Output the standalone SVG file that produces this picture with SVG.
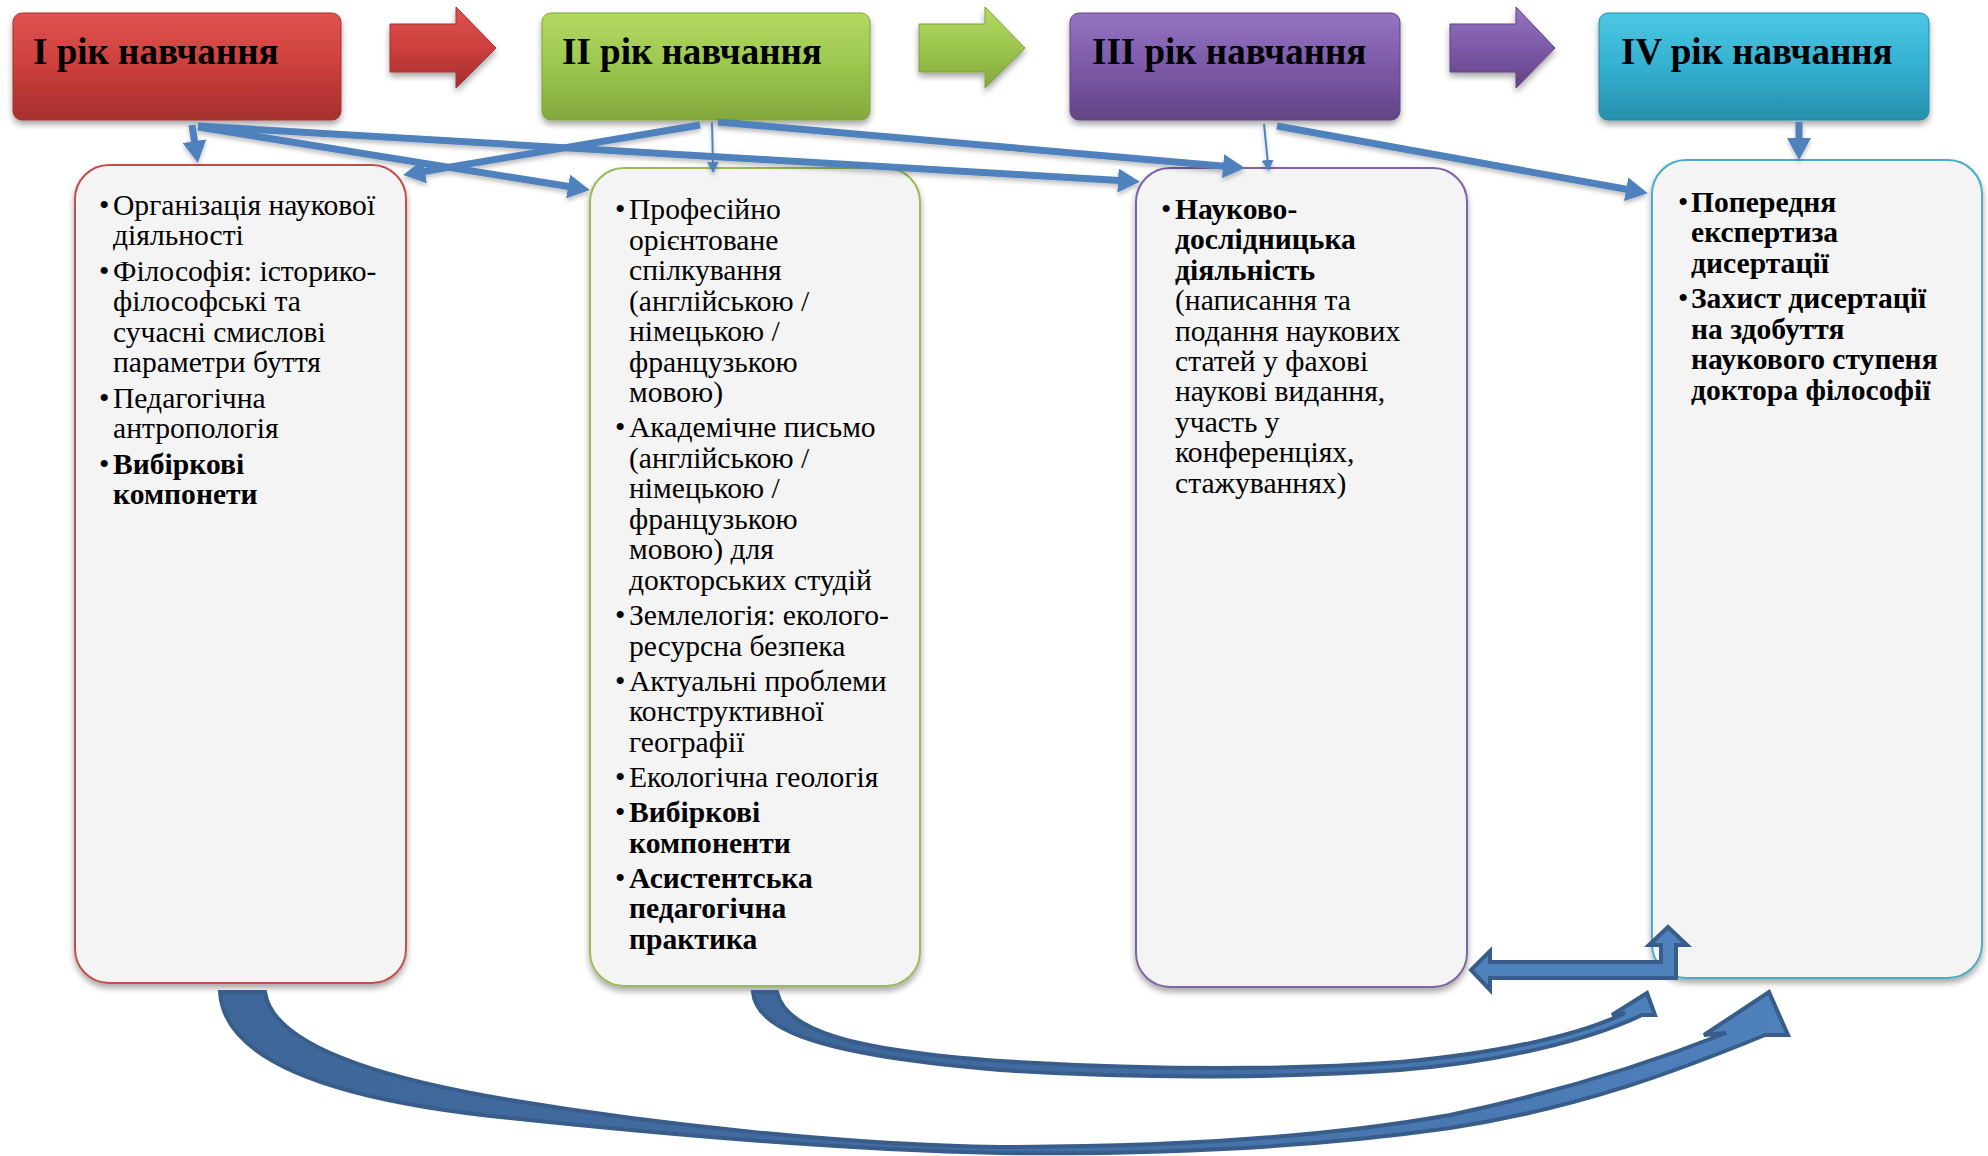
<svg xmlns="http://www.w3.org/2000/svg" width="1988" height="1156" viewBox="0 0 1988 1156">
<style>
.hdr{font-family:"Liberation Serif","Times New Roman",serif;font-weight:bold;font-size:37px;fill:#000}
.t{font-family:"Liberation Serif","Times New Roman",serif;font-size:29.6px;fill:#000}
.b{font-weight:bold}
.box{fill:#f4f4f4;stroke-width:2}
.conn{stroke:#4f81bd;stroke-width:7;fill:none}
.thin{stroke:#4f81bd;stroke-width:2;fill:none}
.big{stroke:#385d8a;stroke-width:4;stroke-linejoin:miter}
</style>
<defs>
<filter id="sh" x="-10%" y="-10%" width="120%" height="130%">
<feDropShadow dx="0" dy="4" stdDeviation="3" flood-color="#000" flood-opacity="0.35"/>
</filter>
<filter id="lsh" x="-5%" y="-50%" width="110%" height="200%">
<feDropShadow dx="0" dy="3" stdDeviation="2" flood-color="#000" flood-opacity="0.25"/>
</filter>
<linearGradient id="gR" x1="0" y1="0" x2="0" y2="1"><stop offset="0" stop-color="#e05350"/><stop offset="0.5" stop-color="#cc3f3c"/><stop offset="1" stop-color="#a42f2d"/></linearGradient>
<linearGradient id="gG" x1="0" y1="0" x2="0" y2="1"><stop offset="0" stop-color="#b2da63"/><stop offset="0.5" stop-color="#9cc64e"/><stop offset="1" stop-color="#82a83c"/></linearGradient>
<linearGradient id="gP" x1="0" y1="0" x2="0" y2="1"><stop offset="0" stop-color="#9474c2"/><stop offset="0.5" stop-color="#7b5aa8"/><stop offset="1" stop-color="#624585"/></linearGradient>
<linearGradient id="gC" x1="0" y1="0" x2="0" y2="1"><stop offset="0" stop-color="#4cc8e4"/><stop offset="0.5" stop-color="#35b0d0"/><stop offset="1" stop-color="#268fab"/></linearGradient>
<linearGradient id="gBlue" x1="0" y1="0" x2="1" y2="0"><stop offset="0" stop-color="#3e6699"/><stop offset="0.55" stop-color="#446fa5"/><stop offset="1" stop-color="#4f81bd"/></linearGradient>
<marker id="ah" markerUnits="userSpaceOnUse" markerWidth="24" markerHeight="24" refX="10" refY="12" orient="auto">
<path d="M0,0 L22,12 L0,24 Z" fill="#4f81bd"/>
</marker>
<marker id="ahs" markerUnits="userSpaceOnUse" markerWidth="12" markerHeight="12" refX="4" refY="6" orient="auto">
<path d="M0,0 L11,6 L0,12 Z" fill="#4f81bd"/>
</marker>
</defs>
<rect width="1988" height="1156" fill="#fff"/>

<g id="arrow-red" filter="url(#sh)"><path d="M390,24 L456,24 L456,7 L496,48 L456,88 L456,72 L390,72 Z" fill="url(#gR)" stroke="#a33230" stroke-width="1"/></g>
<g id="arrow-green" filter="url(#sh)"><path d="M919,24 L985,24 L985,7 L1025,48 L985,88 L985,72 L919,72 Z" fill="url(#gG)" stroke="#7fa33b" stroke-width="1"/></g>
<g id="arrow-purple" filter="url(#sh)"><path d="M1450,24 L1516,24 L1516,7 L1555,48 L1516,88 L1516,72 L1450,72 Z" fill="url(#gP)" stroke="#5f4582" stroke-width="1"/></g>

<g id="year1">
<rect x="13" y="13" width="328" height="107" rx="9" fill="url(#gR)" stroke="#a33230" stroke-width="1" filter="url(#sh)"/>
<text class="hdr" x="33" y="64">I рік навчання</text>
</g>
<g id="year2">
<rect x="542" y="13" width="328" height="107" rx="9" fill="url(#gG)" stroke="#7fa33b" stroke-width="1" filter="url(#sh)"/>
<text class="hdr" x="562" y="64">II рік навчання</text>
</g>
<g id="year3">
<rect x="1070" y="13" width="330" height="107" rx="9" fill="url(#gP)" stroke="#5f4582" stroke-width="1" filter="url(#sh)"/>
<text class="hdr" x="1092" y="64">III рік навчання</text>
</g>
<g id="year4">
<rect x="1599" y="13" width="330" height="107" rx="9" fill="url(#gC)" stroke="#238aa5" stroke-width="1" filter="url(#sh)"/>
<text class="hdr" x="1621" y="64">IV рік навчання</text>
</g>

<g id="box1">
<rect class="box" x="75" y="165" width="331" height="818" rx="34" stroke="#c0504d" filter="url(#sh)"/>
<text class="t" x="99" y="215">•</text><text class="t" x="113" y="215">Організація наукової</text>
<text class="t" x="113" y="245.4">діяльності</text>
<text class="t" x="99" y="280.9">•</text><text class="t" x="113" y="280.9">Філософія: історико-</text>
<text class="t" x="113" y="311.3">філософські та</text>
<text class="t" x="113" y="341.7">сучасні смислові</text>
<text class="t" x="113" y="372.1">параметри буття</text>
<text class="t" x="99" y="407.6">•</text><text class="t" x="113" y="407.6">Педагогічна</text>
<text class="t" x="113" y="438">антропологія</text>
<text class="t" x="99" y="473.5">•</text><text class="t b" x="113" y="473.5">Вибіркові</text>
<text class="t b" x="113" y="503.9">компонети</text>
</g>

<g id="box2">
<rect class="box" x="590" y="168" width="330" height="818" rx="34" stroke="#9bbb59" filter="url(#sh)"/>
<text class="t" x="615" y="219">•</text><text class="t" x="629" y="219">Професійно</text>
<text class="t" x="629" y="249.5">орієнтоване</text>
<text class="t" x="629" y="280">спілкування</text>
<text class="t" x="629" y="310.5">(англійською /</text>
<text class="t" x="629" y="341">німецькою /</text>
<text class="t" x="629" y="371.5">французькою</text>
<text class="t" x="629" y="402">мовою)</text>
<text class="t" x="615" y="437">•</text><text class="t" x="629" y="437">Академічне письмо</text>
<text class="t" x="629" y="467.5">(англійською /</text>
<text class="t" x="629" y="498">німецькою /</text>
<text class="t" x="629" y="528.5">французькою</text>
<text class="t" x="629" y="559">мовою) для</text>
<text class="t" x="629" y="589.5">докторських студій</text>
<text class="t" x="615" y="625">•</text><text class="t" x="629" y="625">Землелогія: еколого-</text>
<text class="t" x="629" y="655.5">ресурсна безпека</text>
<text class="t" x="615" y="690.5">•</text><text class="t" x="629" y="690.5">Актуальні проблеми</text>
<text class="t" x="629" y="721">конструктивної</text>
<text class="t" x="629" y="751.5">географії</text>
<text class="t" x="615" y="786.5">•</text><text class="t" x="629" y="786.5">Екологічна геологія</text>
<text class="t" x="615" y="822">•</text><text class="t b" x="629" y="822">Вибіркові</text>
<text class="t b" x="629" y="852.5">компоненти</text>
<text class="t" x="615" y="887.5">•</text><text class="t b" x="629" y="887.5">Асистентська</text>
<text class="t b" x="629" y="918">педагогічна</text>
<text class="t b" x="629" y="948.5">практика</text>
</g>

<g id="box3">
<rect class="box" x="1136" y="168" width="331" height="819" rx="34" stroke="#8064a2" filter="url(#sh)"/>
<text class="t" x="1161" y="219">•</text><text class="t b" x="1175" y="219">Науково-</text>
<text class="t b" x="1175" y="249.4">дослідницька</text>
<text class="t b" x="1175" y="279.8">діяльність</text>
<text class="t" x="1175" y="310.2">(написання та</text>
<text class="t" x="1175" y="340.6">подання наукових</text>
<text class="t" x="1175" y="371">статей у фахові</text>
<text class="t" x="1175" y="401.4">наукові видання,</text>
<text class="t" x="1175" y="431.8">участь у</text>
<text class="t" x="1175" y="462.2">конференціях,</text>
<text class="t" x="1175" y="492.6">стажуваннях)</text>
</g>

<g id="box4">
<rect class="box" x="1652" y="160" width="330" height="818" rx="34" stroke="#4bacc6" filter="url(#sh)"/>
<text class="t" x="1678" y="212">•</text><text class="t b" x="1691" y="212">Попередня</text>
<text class="t b" x="1691" y="242.4">експертиза</text>
<text class="t b" x="1691" y="272.8">дисертації</text>
<text class="t" x="1678" y="308.3">•</text><text class="t b" x="1691" y="308.3">Захист дисертації</text>
<text class="t b" x="1691" y="338.7">на здобуття</text>
<text class="t b" x="1691" y="369.1">наукового ступеня</text>
<text class="t b" x="1691" y="399.5">доктора філософії</text>
</g>

<g id="connectors">
<g filter="url(#lsh)">
<line class="conn" x1="192" y1="125" x2="196" y2="151" marker-end="url(#ah)"/>
<line class="conn" x1="198" y1="127" x2="578" y2="188" marker-end="url(#ah)"/>
<line class="conn" x1="198" y1="126" x2="1128" y2="181" marker-end="url(#ah)"/>
<line class="conn" x1="700" y1="125" x2="415" y2="173" marker-end="url(#ah)"/>
<line class="thin" x1="712" y1="122" x2="713" y2="166" marker-end="url(#ahs)"/>
<line class="conn" x1="718" y1="122" x2="1233" y2="167" marker-end="url(#ah)"/>
<line class="thin" x1="1264" y1="124" x2="1268" y2="164" marker-end="url(#ahs)"/>
<line class="conn" x1="1277" y1="126" x2="1636" y2="191" marker-end="url(#ah)"/>
<line class="conn" x1="1799" y1="122" x2="1799" y2="148" marker-end="url(#ah)"/>
</g>
<path class="big" fill="url(#gBlue)" d="M220,992 C224,1060 330,1100 510,1118 C680,1136 850,1150 1000,1153 C1180,1155 1330,1145 1450,1128 C1580,1108 1680,1070 1765,1035 L1788,1035 L1769,992 L1704,1035 L1726,1033 C1650,1063 1560,1092 1450,1115 C1320,1138 1170,1147 1000,1147 C850,1145 660,1125 510,1100 C360,1075 272,1040 265,992 Z"/>
<path class="big" fill="url(#gBlue)" d="M753,992 C756,1030 820,1055 1000,1070 C1150,1080 1300,1077 1400,1070 C1500,1062 1590,1040 1642,1015 L1655,1015 L1647,993 L1612,1015 L1625,1013 C1580,1035 1500,1053 1400,1062 C1290,1070 1150,1070 1000,1061 C850,1050 785,1030 777,992 Z"/>
<path class="big" fill="#4f81bd" d="M1471,970 L1490,951 L1490,962 L1661,962 L1661,945 L1649,945 L1668,927 L1687,945 L1676,945 L1676,978 L1490,978 L1490,990 Z"/>
</g>
</svg>
